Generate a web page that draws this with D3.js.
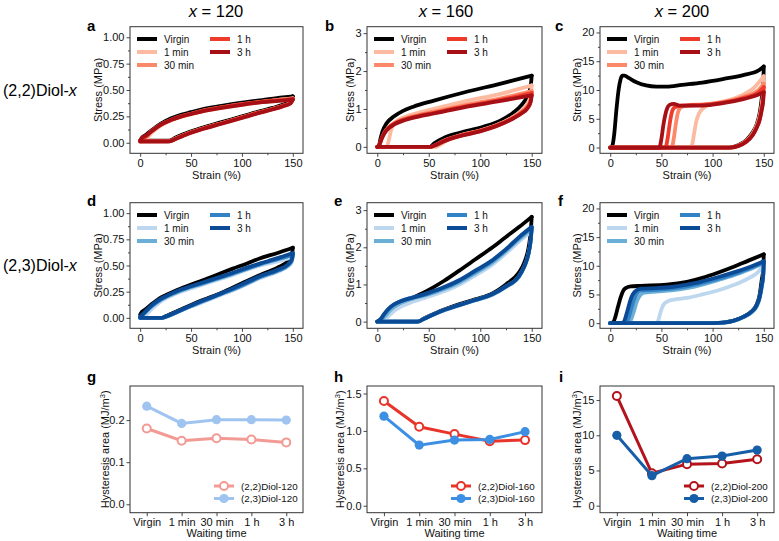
<!DOCTYPE html>
<html><head><meta charset="utf-8">
<script src="https://cdn.jsdelivr.net/npm/d3@7"></script>
<style>body{margin:0;background:#fff} svg text{font-family:"Liberation Sans",Arial,Helvetica,sans-serif}</style>
</head><body><svg id="c" width="779" height="541"></svg>
<script>
// ---------------- DATA ----------------
const waitLabels = ["Virgin","1 min","30 min","1 h","3 h"];
const strainTicks = [0,50,100,150];
const colTitles = ["120","160","200"];
const rowLabels = ["(2,2)Diol-","(2,3)Diol-"];

// panel a : (2,2)Diol-120  [strain %, stress MPa]
const aVirgin=[[0,0.02],[2,0.05],[5,0.07],[10,0.11],[20,0.18],[30,0.23],[40,0.265],[50,0.29],[60,0.315],[80,0.35],[100,0.38],[120,0.405],[140,0.43],[150,0.44],[148,0.4],[140,0.36],[130,0.33],[118,0.3],[100,0.25],[80,0.195],[60,0.14],[45,0.09],[35,0.05],[29,0.02],[0,0.02]];
const a1min=[[0,0.01],[4,0.02],[7,0.05],[12,0.1],[20,0.16],[30,0.21],[40,0.245],[50,0.27],[60,0.295],[80,0.33],[100,0.36],[120,0.385],[140,0.41],[150,0.42],[148,0.38],[140,0.345],[130,0.32],[118,0.29],[100,0.24],[80,0.185],[60,0.13],[45,0.08],[35,0.04],[30,0.015],[0,0.01]];
const a30min=[[0,0.02],[3,0.045],[6,0.06],[10,0.1],[20,0.17],[30,0.215],[40,0.25],[50,0.275],[60,0.3],[80,0.335],[100,0.365],[120,0.39],[140,0.41],[150,0.42],[148,0.385],[140,0.35],[130,0.32],[118,0.29],[100,0.24],[80,0.185],[60,0.13],[45,0.08],[35,0.04],[29,0.015],[0,0.015]];
const a1h=[[0,0.02],[3,0.045],[6,0.06],[10,0.1],[20,0.17],[30,0.215],[40,0.25],[50,0.275],[60,0.3],[80,0.335],[100,0.365],[120,0.39],[140,0.405],[150,0.415],[148,0.38],[140,0.35],[130,0.32],[118,0.29],[100,0.24],[80,0.185],[60,0.13],[45,0.08],[35,0.04],[29,0.015],[0,0.015]];
const a3h=[[0,0.02],[2,0.05],[5,0.065],[10,0.1],[20,0.17],[30,0.215],[40,0.248],[50,0.272],[60,0.295],[80,0.33],[100,0.36],[120,0.385],[140,0.4],[150,0.41],[148,0.375],[140,0.345],[130,0.315],[118,0.285],[100,0.235],[80,0.18],[60,0.125],[45,0.075],[35,0.035],[28,0.012],[0,0.012]];

// panel b : (2,2)Diol-160
const bVirgin=[[0,0],[1.5,0.02],[3,0.2],[5,0.4],[9,0.62],[16,0.8],[25,0.95],[35,1.06],[55,1.22],[85,1.44],[120,1.67],[150,1.88],[149,1.6],[146,1.35],[140,1.1],[132,0.9],[120,0.7],[103,0.53],[80,0.37],[65,0.24],[55,0.09],[51,0],[0,0]];
const b1min=[[0,0],[9,0],[11,0.15],[13,0.4],[16,0.6],[20,0.7],[28,0.8],[40,0.9],[55,1.0],[85,1.2],[120,1.4],[150,1.62],[149,1.35],[146,1.15],[140,0.95],[130,0.76],[115,0.56],[100,0.43],[80,0.3],[68,0.17],[60,0.04],[57,0],[0,0]];
const b30min=[[0,0],[2,0.05],[4,0.2],[7,0.38],[11,0.52],[17,0.64],[27,0.75],[40,0.84],[55,0.93],[85,1.1],[120,1.28],[150,1.47],[149,1.25],[146,1.08],[140,0.93],[130,0.75],[115,0.56],[100,0.43],[80,0.3],[65,0.17],[55,0.03],[52,0],[0,0]];
const b1h=[[0,0],[2,0.05],[4,0.2],[7,0.37],[11,0.5],[17,0.62],[27,0.73],[40,0.82],[55,0.9],[85,1.07],[120,1.24],[150,1.42],[149,1.22],[146,1.05],[140,0.9],[130,0.73],[115,0.55],[100,0.42],[80,0.29],[65,0.16],[55,0.03],[52,0],[0,0]];
const b3h=[[0,0],[2,0.05],[4,0.2],[7,0.36],[11,0.49],[17,0.6],[27,0.71],[40,0.8],[55,0.88],[85,1.05],[120,1.21],[150,1.36],[149,1.18],[146,1.02],[140,0.88],[130,0.72],[115,0.54],[100,0.41],[80,0.28],[65,0.15],[55,0.03],[51,0],[0,0]];

// panel c : (2,2)Diol-200
const cVirgin=[[0,0],[2,0.3],[4,2.5],[6,6.5],[8,9.8],[10,11.8],[12,12.5],[14,12.5],[18,12.1],[25,11.4],[35,10.8],[45,10.6],[55,10.6],[70,10.9],[90,11.3],[110,11.9],[130,12.6],[145,13.4],[150,14.1],[149.5,11],[148,8.5],[146,6],[143,4],[139,2.6],[133,1.3],[125,0.4],[117,0],[0,0]];
const c1min=[[0,0],[78,0],[80,0.5],[82,2.5],[84,4.5],[87,6],[92,7],[100,7.6],[115,8.2],[130,9.2],[140,10.3],[150,12.4],[149.5,10],[148,7.5],[146,5.5],[143,3.8],[139,2.4],[133,1.2],[125,0.3],[118,0],[0,0]];
const c30min=[[0,0],[60,0],[62,1.5],[64,4],[66,6],[69,7],[75,7.3],[90,7.5],[110,7.9],[130,8.8],[145,10],[150,11.1],[149.5,9.2],[148,7],[146,5.2],[143,3.6],[139,2.3],[133,1.1],[125,0.3],[117,0],[0,0]];
const c1h=[[0,0],[54,0],[56,1.5],[58,4],[60,6],[63,7],[70,7.3],[90,7.4],[110,7.8],[130,8.6],[145,9.6],[150,10.5],[149.5,8.8],[148,6.8],[146,5],[143,3.5],[139,2.2],[133,1.1],[125,0.3],[116,0],[0,0]];
const c3h=[[0,0],[48,0],[50,1.5],[52,4],[55,6.5],[58,7.4],[62,7.6],[68,7.3],[90,7.3],[110,7.7],[130,8.4],[145,9.2],[150,9.6],[149.5,8.2],[148,6.5],[146,4.8],[143,3.4],[139,2.1],[133,1.0],[125,0.25],[116,0],[0,0]];

// panel d : (2,3)Diol-120
const dVirgin=[[0,0.03],[2,0.06],[5,0.08],[10,0.12],[18,0.18],[26,0.22],[40,0.28],[59,0.35],[75,0.41],[91,0.47],[105,0.52],[118,0.57],[135,0.62],[150,0.67],[149,0.6],[145,0.54],[135,0.48],[118,0.41],[100,0.33],[80,0.24],[59,0.16],[40,0.08],[25,0.015],[22,0],[0,0]];
const d1min=[[0,0],[4,0.01],[8,0.05],[12,0.09],[18,0.14],[26,0.19],[40,0.25],[59,0.31],[75,0.36],[91,0.41],[105,0.46],[118,0.5],[135,0.54],[150,0.58],[149,0.53],[145,0.49],[135,0.44],[118,0.38],[100,0.3],[80,0.22],[59,0.14],[40,0.07],[26,0.01],[22,0],[0,0]];
const d30min=[[0,0.01],[3,0.03],[6,0.06],[10,0.1],[18,0.16],[26,0.2],[40,0.26],[59,0.32],[75,0.37],[91,0.42],[105,0.47],[118,0.51],[135,0.56],[150,0.6],[149,0.55],[145,0.5],[135,0.45],[118,0.39],[100,0.31],[80,0.23],[59,0.15],[40,0.07],[25,0.01],[21,0],[0,0]];
const d1h=[[0,0.01],[3,0.035],[6,0.065],[10,0.1],[18,0.16],[26,0.205],[40,0.265],[59,0.325],[75,0.375],[91,0.425],[105,0.47],[118,0.515],[135,0.56],[150,0.6],[149,0.55],[145,0.5],[135,0.45],[118,0.39],[100,0.31],[80,0.23],[59,0.15],[40,0.07],[25,0.01],[21,0],[0,0]];
const d3h=[[0,0.01],[3,0.04],[6,0.07],[10,0.11],[18,0.17],[26,0.21],[40,0.27],[59,0.33],[75,0.38],[91,0.43],[105,0.48],[118,0.52],[135,0.57],[150,0.62],[149,0.56],[145,0.51],[135,0.46],[118,0.4],[100,0.32],[80,0.235],[59,0.155],[40,0.075],[25,0.012],[21,0],[0,0]];

// panel e : (2,3)Diol-160
const eVirgin=[[0,0],[5,0.08],[10,0.18],[15.5,0.31],[22,0.45],[31.6,0.6],[47.8,0.82],[65,1.1],[80,1.38],[95,1.67],[112,2.0],[125,2.28],[138,2.55],[150,2.82],[149,2.4],[147,2.0],[143,1.6],[137,1.3],[125,1.0],[112,0.76],[95,0.6],[80,0.47],[60,0.27],[45,0.08],[40,0],[0,0]];
const e1min=[[0,0],[5,0.02],[10,0.12],[15,0.26],[22,0.39],[35,0.54],[48,0.66],[65,0.82],[80,1.0],[95,1.24],[112,1.54],[125,1.84],[138,2.16],[150,2.45],[149,2.15],[147,1.82],[143,1.48],[137,1.18],[125,0.93],[112,0.72],[95,0.57],[80,0.44],[60,0.25],[45,0.07],[40,0],[0,0]];
const e30min=[[0,0],[4,0.04],[8,0.16],[13,0.32],[19,0.45],[30,0.58],[48,0.72],[65,0.88],[80,1.06],[95,1.3],[112,1.6],[125,1.9],[138,2.22],[150,2.5],[149,2.18],[147,1.84],[143,1.49],[137,1.19],[125,0.94],[112,0.73],[95,0.575],[80,0.445],[60,0.255],[45,0.07],[39,0],[0,0]];
const e1h=[[0,0],[3,0.05],[7,0.2],[11,0.34],[17,0.47],[28,0.6],[48,0.74],[65,0.91],[80,1.1],[95,1.34],[112,1.64],[125,1.93],[138,2.26],[150,2.53],[149,2.19],[147,1.85],[143,1.5],[137,1.2],[125,0.95],[112,0.74],[95,0.58],[80,0.45],[60,0.26],[45,0.07],[39,0],[0,0]];
const e3h=[[0,0],[3,0.06],[6,0.18],[10,0.32],[16,0.46],[22,0.54],[35,0.65],[48,0.76],[65,0.93],[80,1.12],[95,1.37],[112,1.66],[125,1.95],[138,2.28],[150,2.55],[149,2.2],[147,1.85],[143,1.5],[137,1.2],[125,0.95],[112,0.74],[95,0.58],[80,0.45],[60,0.26],[45,0.07],[39,0],[0,0]];

// panel f : (2,3)Diol-200
const fVirgin=[[0,0],[3,0.2],[5,1.1],[7.5,2.8],[10,4.4],[12.5,5.6],[15,6.1],[20,6.4],[30,6.5],[55,6.7],[75,7.2],[90,7.9],[105,8.8],[120,9.8],[135,10.9],[150,12],[149.5,9.5],[148,7.5],[146,5],[143,3.2],[138,2],[130,1.1],[120,0.4],[110,0.1],[101,0],[0,0]];
const f1min=[[0,0],[45,0],[47,0.5],[49,1.8],[52,3.2],[56,3.8],[62,4.1],[75,4.4],[90,5],[105,5.7],[120,6.6],[135,7.8],[145,9],[150,10.2],[149.5,8],[148,6],[146,4.2],[143,2.8],[138,1.8],[130,1],[120,0.35],[110,0.05],[103,0],[0,0]];
const f30min=[[0,0],[18,0],[20,0.5],[23,2],[26,3.8],[29,4.8],[33,5.3],[45,5.5],[60,5.7],[75,6.1],[90,6.7],[105,7.5],[120,8.3],[135,9.3],[150,10.5],[149.5,8.4],[148,6.4],[146,4.5],[143,3],[138,1.9],[130,1.05],[120,0.38],[110,0.08],[102,0],[0,0]];
const f1h=[[0,0],[15,0],[17,0.5],[20,2.2],[23,4],[26,5.2],[30,5.7],[45,5.8],[60,6],[75,6.4],[90,7],[105,7.7],[120,8.5],[135,9.5],[150,10.6],[149.5,8.5],[148,6.5],[146,4.55],[143,3.05],[138,1.95],[130,1.07],[120,0.39],[110,0.08],[101,0],[0,0]];
const f3h=[[0,0],[12,0],[14,0.5],[17,2.3],[20,4.2],[24,5.5],[30,6.0],[45,6.1],[60,6.3],[75,6.7],[90,7.3],[105,8],[120,8.8],[135,9.7],[150,10.8],[149.5,8.6],[148,6.6],[146,4.6],[143,3.1],[138,2],[130,1.1],[120,0.4],[110,0.08],[101,0],[0,0]];

// hysteresis areas (MJ/m^3) vs waiting time
const g22=[0.180,0.151,0.157,0.154,0.147];
const g23=[0.233,0.192,0.201,0.201,0.200];
const h22=[1.40,1.055,0.957,0.863,0.877];
const h23=[1.197,0.81,0.877,0.886,0.99];
const i22=[15.57,4.6,5.9,6.0,6.6];
const i23=[9.99,4.26,6.67,7.05,7.9];

// ---------------- STYLE ----------------
const redColors=["#000000","#fcbba1","#fc8a6a","#ef3b2c","#a50f15"];
const blueColors=["#000000","#bdd7ee","#6baed6","#3182c6","#0b4a94"];
const AX="#333";
const TFS=11;   // tick / axis-title font size
const svg=d3.select("#c");

function styleAxis(g,fs){
  g.select(".domain").remove();
  g.selectAll(".tick line").attr("stroke",AX).attr("stroke-width",0.9);
  g.selectAll(".tick text").attr("font-size",fs).attr("fill","#111");
}
function frame(p){
  svg.append("rect").attr("x",p.L).attr("y",p.T).attr("width",p.R-p.L).attr("height",p.B-p.T)
    .attr("fill","none").attr("stroke",AX).attr("stroke-width",1);
}
function splitLoop(pts){
  let im=0; pts.forEach((q,i)=>{ if(q[0]>pts[im][0]) im=i; });
  return [pts.slice(0,im+1), pts.slice(im).reverse()];
}

// ---------------- STRESS-STRAIN PANELS ----------------
const curvePanels=[
 {L:130,R:303,T:26.7,B:153.3,yDom:[-0.1,1.1],yT:[0,0.25,0.5,0.75,1],fmt:".2f",series:[aVirgin,a1min,a30min,a1h,a3h],colors:redColors,letter:"a",lx:87,ly:31,ylx:98},
 {L:367,R:542,T:26.7,B:153.3,yDom:[-0.17,3.17],yT:[0,1,2,3],fmt:"d",series:[bVirgin,b1min,b30min,b1h,b3h],colors:redColors,letter:"b",lx:325,ly:31,ylx:350},
 {L:600,R:774,T:26.7,B:153.3,yDom:[-1,21],yT:[0,5,10,15,20],fmt:"d",series:[cVirgin,c1min,c30min,c1h,c3h],colors:redColors,letter:"c",lx:555,ly:31,ylx:577},
 {L:130,R:303,T:202.7,B:328.3,yDom:[-0.1,1.1],yT:[0,0.25,0.5,0.75,1],fmt:".2f",series:[dVirgin,d1min,d30min,d1h,d3h],colors:blueColors,letter:"d",lx:87,ly:206,ylx:98},
 {L:367,R:542,T:202.7,B:328.3,yDom:[-0.18,3.2],yT:[0,1,2,3],fmt:"d",series:[eVirgin,e1min,e30min,e1h,e3h],colors:blueColors,letter:"e",lx:334,ly:206,ylx:350},
 {L:600,R:774,T:202.7,B:328.3,yDom:[-0.9,21],yT:[0,5,10,15,20],fmt:"d",series:[fVirgin,f1min,f30min,f1h,f3h],colors:blueColors,letter:"f",lx:558,ly:206,ylx:577}
];

curvePanels.forEach((p,pi)=>{
  const x=d3.scaleLinear().domain([-10,160]).range([p.L,p.R]);
  const y=d3.scaleLinear().domain(p.yDom).range([p.B,p.T]);
  // minor ticks
  const xm=d3.range(0,151,25).filter(v=>v%50!==0);
  svg.append("g").attr("transform",`translate(0,${p.B})`).call(d3.axisBottom(x).tickValues(xm).tickSize(2).tickFormat("")).call(g=>styleAxis(g,10));
  const st=p.yT[1]-p.yT[0];
  const ym=p.yT.slice(0,-1).map(v=>v+st/2).concat([p.yT[p.yT.length-1]+st/2]).filter(v=>v<=p.yDom[1]);
  svg.append("g").attr("transform",`translate(${p.L},0)`).call(d3.axisLeft(y).tickValues(ym).tickSize(2).tickFormat("")).call(g=>styleAxis(g,10));
  svg.append("g").attr("transform",`translate(0,${p.B})`)
    .call(d3.axisBottom(x).tickValues(strainTicks).tickSize(3.5).tickPadding(2).tickFormat(d3.format("d")))
    .call(g=>styleAxis(g,TFS));
  svg.append("g").attr("transform",`translate(${p.L},0)`)
    .call(d3.axisLeft(y).tickValues(p.yT).tickSize(3.5).tickPadding(2).tickFormat(d3.format(p.fmt)))
    .call(g=>styleAxis(g,TFS));
  // clip
  const cid="clip"+pi;
  svg.append("clipPath").attr("id",cid).append("rect").attr("x",p.L).attr("y",p.T).attr("width",p.R-p.L).attr("height",p.B-p.T);
  const gc=svg.append("g").attr("clip-path",`url(#${cid})`);
  const line=d3.line().x(d=>x(d[0])).y(d=>y(d[1])).curve(d3.curveMonotoneX);
  p.series.forEach((s,si)=>{
    const [ld,ul]=splitLoop(s);
    [ul,ld].forEach(seg=>{
      gc.append("path").attr("d",line(seg)).attr("fill","none").attr("stroke",p.colors[si])
        .attr("stroke-width",3.8).attr("stroke-linejoin","round").attr("stroke-linecap","round");
    });
  });
  frame(p);
  // legend
  const lpos=[[0,0],[0,1],[0,2],[1,0],[1,1]];
  waitLabels.forEach((lab,i)=>{
    const [c,r]=lpos[i];
    const lx=p.L+7+c*73, ly=p.T+12.3+r*13;
    svg.append("line").attr("x1",lx).attr("x2",lx+20).attr("y1",ly).attr("y2",ly)
      .attr("stroke",p.colors[i]).attr("stroke-width",4);
    svg.append("text").attr("x",lx+27).attr("y",ly+3.6).attr("font-size",10).attr("fill","#111").text(lab);
  });
  // labels
  svg.append("text").attr("x",(p.L+p.R)/2).attr("y",p.B+25.5).attr("text-anchor","middle").attr("font-size",TFS).attr("fill","#111").text("Strain (%)");
  svg.append("text").attr("transform",`translate(${p.ylx},${(p.T+p.B)/2}) rotate(-90)`).attr("text-anchor","middle").attr("dy","0.35em").attr("font-size",TFS).attr("fill","#111").text("Stress (MPa)");
  svg.append("text").attr("x",p.lx).attr("y",p.ly).attr("font-size",15).attr("font-weight","bold").attr("fill","#000").text(p.letter);
});

// ---------------- HYSTERESIS PANELS ----------------
const hystPanels=[
 {L:130,R:303,yDom:[-0.02,0.281],yT:[0,0.1,0.2],fmt:".1f",s22:g22,s23:g23,c22:"#f29a93",c23:"#9fc4f0",lab:"120",letter:"g",lx:87,ylx:105},
 {L:367,R:542,yDom:[-0.093,1.6],yT:[0,0.5,1,1.5],fmt:".1f",s22:h22,s23:h23,c22:"#e8342a",c23:"#3d8fe3",lab:"160",letter:"h",lx:334,ylx:340},
 {L:600,R:774,yDom:[-1,17],yT:[0,5,10,15],fmt:"d",s22:i22,s23:i23,c22:"#b3141c",c23:"#165ea8",lab:"200",letter:"i",lx:559,ylx:577}
];
hystPanels.forEach(p=>{
  p.T=386; p.B=512.7;
  const x=d3.scaleLinear().domain([-0.48,4.48]).range([p.L,p.R]);
  const y=d3.scaleLinear().domain(p.yDom).range([p.B,p.T]);
  svg.append("g").attr("transform",`translate(0,${p.B})`)
    .call(d3.axisBottom(x).tickValues([0,1,2,3,4]).tickSize(3.5).tickPadding(2).tickFormat(i=>waitLabels[i]))
    .call(g=>styleAxis(g,TFS));
  svg.append("g").attr("transform",`translate(${p.L},0)`)
    .call(d3.axisLeft(y).tickValues(p.yT).tickSize(3.5).tickPadding(2).tickFormat(d3.format(p.fmt)))
    .call(g=>styleAxis(g,TFS));
  const line=d3.line().x((d,i)=>x(i)).y(d=>y(d));
  [[p.s22,p.c22,true],[p.s23,p.c23,false]].forEach(([vals,col,open])=>{
    svg.append("path").attr("d",line(vals)).attr("fill","none").attr("stroke",col).attr("stroke-width",3);
    svg.selectAll(null).data(vals).enter().append("circle")
      .attr("cx",(d,i)=>x(i)).attr("cy",d=>y(d)).attr("r",open?4:4.6)
      .attr("fill",open?"#fff":col).attr("stroke",col).attr("stroke-width",open?2:0);
  });
  frame(p);
  // legend
  [["(2,2)Diol-"+p.lab,p.c22,true],["(2,3)Diol-"+p.lab,p.c23,false]].forEach(([t,col,open],k)=>{
    const ly=p.B-26.7+k*12.5, lx=p.L+84;
    svg.append("line").attr("x1",lx).attr("x2",lx+20).attr("y1",ly).attr("y2",ly).attr("stroke",col).attr("stroke-width",3);
    svg.append("circle").attr("cx",lx+10).attr("cy",ly).attr("r",open?4:4.6).attr("fill",open?"#fff":col).attr("stroke",col).attr("stroke-width",open?2:0);
    svg.append("text").attr("x",lx+27).attr("y",ly+3.5).attr("font-size",9.8).attr("fill","#111").text(t);
  });
  svg.append("text").attr("x",(p.L+p.R)/2).attr("y",537).attr("text-anchor","middle").attr("font-size",TFS).attr("fill","#111").text("Waiting time");
  const yl=svg.append("text").attr("transform",`translate(${p.ylx},${(p.T+p.B)/2}) rotate(-90)`).attr("text-anchor","middle").attr("dy","0.35em").attr("font-size",TFS).attr("fill","#111");
  yl.append("tspan").text("Hysteresis area (MJ/m");
  yl.append("tspan").attr("font-size",7.5).attr("dy","-0.55em").text("3");
  yl.append("tspan").attr("dy","0.4em").text(")");
  svg.append("text").attr("x",p.lx).attr("y",381.5).attr("font-size",15).attr("font-weight","bold").attr("fill","#000").text(p.letter);
});

// ---------------- TITLES / ROW LABELS ----------------
const titleX=[216,446,682];
colTitles.forEach((t,i)=>{
  const tt=svg.append("text").attr("x",titleX[i]).attr("y",16.5).attr("text-anchor","middle").attr("font-size",16.5).attr("fill","#000");
  tt.append("tspan").attr("font-style","italic").text("x");
  tt.append("tspan").text(" = "+t);
});
const rowY=[96,271];
rowLabels.forEach((t,i)=>{
  const tt=svg.append("text").attr("x",3).attr("y",rowY[i]).attr("font-size",16).attr("fill","#000");
  tt.append("tspan").text(t);
  tt.append("tspan").attr("font-style","italic").text("x");
});
</script></body></html>
